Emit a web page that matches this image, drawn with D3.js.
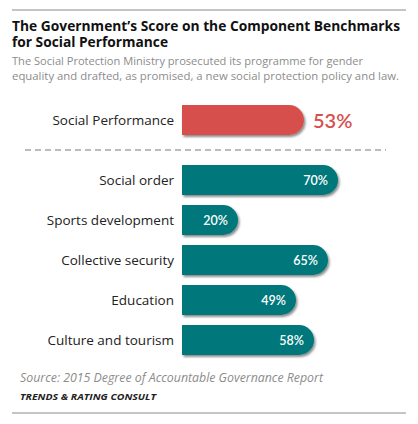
<!DOCTYPE html>
<html lang="en">
<head>
<meta charset="UTF-8">
<title>Social Performance</title>
<script src="https://d3js.org/d3.v7.min.js"></script>
<style>
  body { margin: 0; background: #fff; }
  svg text { font-family: "Open Sans", "Noto Sans", sans-serif; }
</style>
</head>
<body>
<div id="chart"></div>
<script>
// overall score
const overallLabel = "Social Performance";
const overallValue = 53;

// component benchmarks
const categories = ["Social order", "Sports development", "Collective security", "Education", "Culture and tourism"];
const values = [70, 20, 65, 49, 58];

const width = 418, height = 424;
const barX = 182, barH = 30;

const svg = d3.select("#chart").append("svg")
  .attr("width", width)
  .attr("height", height);

const defs = svg.append("defs");
const shadow = defs.append("filter").attr("id", "shadow")
  .attr("x", "-10%").attr("y", "-20%").attr("width", "130%").attr("height", "160%");
shadow.append("feDropShadow")
  .attr("dx", 1.5).attr("dy", 2).attr("stdDeviation", 1.2)
  .attr("flood-color", "#000").attr("flood-opacity", 0.45);

// value -> bar length
const x = d3.scaleLinear().domain([-8, 100]).range([0, 216]);

// right-rounded bar path
function barPath(x0, y0, w, h) {
  const r = h / 2;
  return `M${x0},${y0}H${x0 + w - r}A${r},${r} 0 0 1 ${x0 + w - r},${y0 + h}H${x0}Z`;
}

// rules
svg.append("line").attr("x1", 12).attr("x2", 406).attr("y1", 10).attr("y2", 10)
  .attr("stroke", "#8a8a8a").attr("stroke-width", 1);
svg.append("line").attr("x1", 12).attr("x2", 406).attr("y1", 413).attr("y2", 413)
  .attr("stroke", "#8a8a8a").attr("stroke-width", 1);

// title + subtitle
svg.append("text")
  .attr("x", 12).attr("y", 31).attr("fill", "#111")
  .attr("textLength", 388).attr("lengthAdjust", "spacingAndGlyphs")
  .style("font-size", "14px").style("font-weight", "bold")
  .text("The Government\u2019s Score on the Component Benchmarks");
svg.append("text")
  .attr("x", 12).attr("y", 47).attr("fill", "#111")
  .attr("textLength", 156).attr("lengthAdjust", "spacingAndGlyphs")
  .style("font-size", "14px").style("font-weight", "bold")
  .text("for Social Performance");

svg.append("text")
  .attr("x", 12).attr("y", 65).attr("fill", "#8c8c8c")
  .attr("textLength", 351).attr("lengthAdjust", "spacingAndGlyphs")
  .style("font-size", "11.5px")
  .text("The Social Protection Ministry prosecuted its programme for gender");
svg.append("text")
  .attr("x", 12).attr("y", 80).attr("fill", "#8c8c8c")
  .attr("textLength", 387).attr("lengthAdjust", "spacingAndGlyphs")
  .style("font-size", "11.5px")
  .text("equality and drafted, as promised, a new social protection policy and law.");

// overall bar
const top0 = 105;
svg.append("path")
  .attr("d", barPath(barX, top0, x(overallValue), barH))
  .attr("fill", "#d74f4d")
  .attr("filter", "url(#shadow)");
svg.append("text")
  .attr("x", 174).attr("y", top0 + barH / 2 + 4.5)
  .attr("text-anchor", "end").attr("fill", "#222")
  .style("font-size", "13.5px")
  .text(overallLabel);
svg.append("text")
  .attr("x", barX + x(overallValue) + 9).attr("y", top0 + barH / 2 + 7.5)
  .attr("fill", "#d74f4d")
  .style("font-size", "20px").style("font-family", "Lato, sans-serif").style("font-weight", "600")
  .text(overallValue + "%");

// dashed separator
svg.append("line").attr("x1", 25).attr("x2", 386).attr("y1", 150).attr("y2", 150)
  .attr("stroke", "#777").attr("stroke-width", 1).attr("stroke-dasharray", "6,4");

// component bars
const y = d3.scaleBand().domain(categories).range([160, 360]).paddingInner(0.25).paddingOuter(0.125);

const rows = svg.append("g").selectAll("g")
  .data(categories.map((c, i) => ({ cat: c, val: values[i] })))
  .join("g");

rows.append("path")
  .attr("d", d => barPath(barX, y(d.cat), x(d.val), y.bandwidth()))
  .attr("fill", "#00777a")
  .attr("filter", "url(#shadow)");

rows.append("text")
  .attr("x", 174).attr("y", d => y(d.cat) + y.bandwidth() / 2 + 4.5)
  .attr("text-anchor", "end").attr("fill", "#222")
  .style("font-size", "13.5px")
  .text(d => d.cat);

rows.append("text")
  .attr("x", d => barX + x(d.val) - 10).attr("y", d => y(d.cat) + y.bandwidth() / 2 + 4.5)
  .attr("text-anchor", "end").attr("fill", "#fff")
  .style("font-size", "12.5px").style("font-family", "Lato, sans-serif").style("font-weight", "600")
  .text(d => d.val + "%");

// source
svg.append("text")
  .attr("x", 20).attr("y", 382).attr("fill", "#8c8c8c")
  .attr("textLength", 303).attr("lengthAdjust", "spacingAndGlyphs")
  .style("font-size", "12px").style("font-style", "italic")
  .text("Source: 2015 Degree of Accountable Governance Report");
svg.append("text")
  .attr("x", 20).attr("y", 400).attr("fill", "#222")
  .attr("textLength", 136).attr("lengthAdjust", "spacingAndGlyphs")
  .style("font-size", "9px").style("font-style", "italic").style("font-weight", "bold")
  .text("TRENDS & RATING CONSULT");
</script>
</body>
</html>
